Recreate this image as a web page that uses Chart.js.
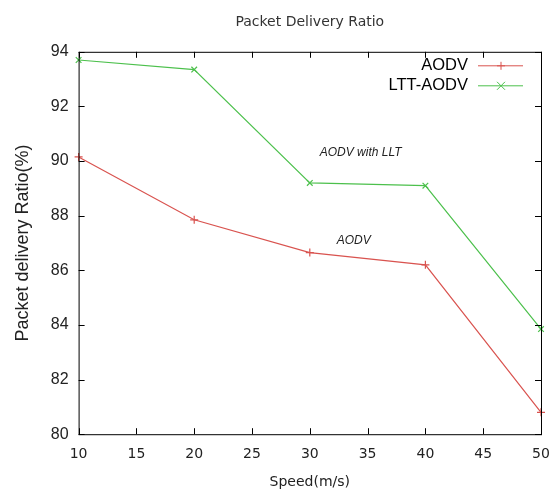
<!DOCTYPE html>
<html>
<head>
<meta charset="utf-8">
<script src="https://cdn.jsdelivr.net/npm/chart.js@4"></script>
<style>
  html, body { margin: 0; padding: 0; background: #fff; }
  #wrap { width: 553px; height: 489px; }
</style>
</head>
<body>
<div id="wrap"><canvas id="c" width="553" height="489"></canvas></div>
<script>
const speeds = [10, 20, 30, 40, 50];
const aodv = [90.15, 87.85, 86.65, 86.2, 80.8];
const lttAodv = [93.7, 93.35, 89.2, 89.1, 83.85];
const notes = [
  { text: 'AODV with LLT', x: 34.4, y: 90.3 },
  { text: 'AODV', x: 33.8, y: 87.1 },
];

const RED = '#d9534f';
const GREEN = '#4cc04c';

// gnuplot-like frame with inward ticks on all sides, legend inside, notes
const frame = {
  id: 'frame',
  afterDraw(chart) {
    const { ctx, chartArea: a, scales: { x, y } } = chart;
    ctx.save();
    ctx.strokeStyle = '#000';
    ctx.lineWidth = 1;
    ctx.strokeRect(a.left + 0.5, a.top + 0.5, a.right - a.left, a.bottom - a.top);
    ctx.beginPath();
    const t = 6;
    x.ticks.forEach(tk => {
      const px = Math.round(x.getPixelForValue(tk.value)) + 0.5;
      ctx.moveTo(px, a.bottom); ctx.lineTo(px, a.bottom - t);
      ctx.moveTo(px, a.top); ctx.lineTo(px, a.top + t);
    });
    y.ticks.forEach(tk => {
      const py = Math.round(y.getPixelForValue(tk.value)) + 0.5;
      ctx.moveTo(a.left, py); ctx.lineTo(a.left + t, py);
      ctx.moveTo(a.right, py); ctx.lineTo(a.right - t, py);
    });
    ctx.stroke();

    // legend
    ctx.font = '16.5px "Liberation Sans", Arial, sans-serif';
    ctx.textAlign = 'right';
    ctx.textBaseline = 'middle';
    chart.data.datasets.forEach((ds, i) => {
      const ly = a.top + 14 + i * 20;
      ctx.fillStyle = '#000';
      ctx.fillText(ds.label, a.right - 73, ly);
      ctx.strokeStyle = ds.borderColor;
      ctx.beginPath();
      ctx.moveTo(a.right - 63, ly); ctx.lineTo(a.right - 18, ly);
      const cx = a.right - 40, r = 4;
      if (ds.pointStyle === 'cross') {
        ctx.moveTo(cx - r, ly); ctx.lineTo(cx + r, ly);
        ctx.moveTo(cx, ly - r); ctx.lineTo(cx, ly + r);
      } else {
        ctx.moveTo(cx - r, ly - r); ctx.lineTo(cx + r, ly + r);
        ctx.moveTo(cx - r, ly + r); ctx.lineTo(cx + r, ly - r);
      }
      ctx.stroke();
    });

    // notes
    ctx.font = 'italic 12px "Liberation Sans", Arial, sans-serif';
    ctx.textAlign = 'center';
    ctx.fillStyle = '#222';
    notes.forEach(n => ctx.fillText(n.text, x.getPixelForValue(n.x), y.getPixelForValue(n.y)));
    ctx.restore();
  }
};

new Chart(document.getElementById('c'), {
  type: 'line',
  data: {
    labels: speeds,
    datasets: [
      { label: 'AODV', data: aodv.map((v, i) => ({ x: speeds[i], y: v })), borderColor: RED, pointStyle: 'cross',
        pointRadius: 4, pointBorderColor: RED, borderWidth: 1.2, pointBorderWidth: 1.2, tension: 0, fill: false },
      { label: 'LTT-AODV', data: lttAodv.map((v, i) => ({ x: speeds[i], y: v })), borderColor: GREEN, pointStyle: 'crossRot',
        pointRadius: 4, pointBorderColor: GREEN, borderWidth: 1.2, pointBorderWidth: 1.2, tension: 0, fill: false },
    ],
  },
  options: {
    responsive: false,
    animation: false,
    clip: false,
    layout: { padding: { top: 0, right: 0, left: 13, bottom: 0 } },
    plugins: {
      legend: { display: false },
      tooltip: { enabled: false },
      title: {
        display: true, text: 'Packet Delivery Ratio', color: '#333', fullSize: false,
        font: { family: '"DejaVu Sans", sans-serif', size: 14, weight: 'normal' },
        padding: { top: 14, bottom: 21 },
      },
    },
    scales: {
      x: {
        type: 'linear', min: 10, max: 50,
        afterFit(scale) { scale.paddingRight = 12; },
        ticks: { stepSize: 5, color: '#222', padding: 12, font: { family: '"DejaVu Sans", sans-serif', size: 14 } },
        grid: { display: false, drawTicks: false },
        border: { display: false },
        title: { display: true, text: 'Speed(m/s)', color: '#222', padding: { top: 0, bottom: 0 },
          font: { family: '"DejaVu Sans", sans-serif', size: 14, lineHeight: 1 } },
      },
      y: {
        min: 80, max: 94,
        ticks: { stepSize: 2, color: '#222', padding: 10, font: { family: '"Liberation Sans", Arial, sans-serif', size: 16 } },
        grid: { display: false, drawTicks: false },
        border: { display: false },
        title: { display: true, text: 'Packet delivery Ratio(%)', color: '#222', padding: { top: 0, bottom: 8 },
          font: { family: '"Liberation Sans", Arial, sans-serif', size: 18, lineHeight: 1.1 } },
      },
    },
  },
  plugins: [frame],
});
</script>
</body>
</html>
